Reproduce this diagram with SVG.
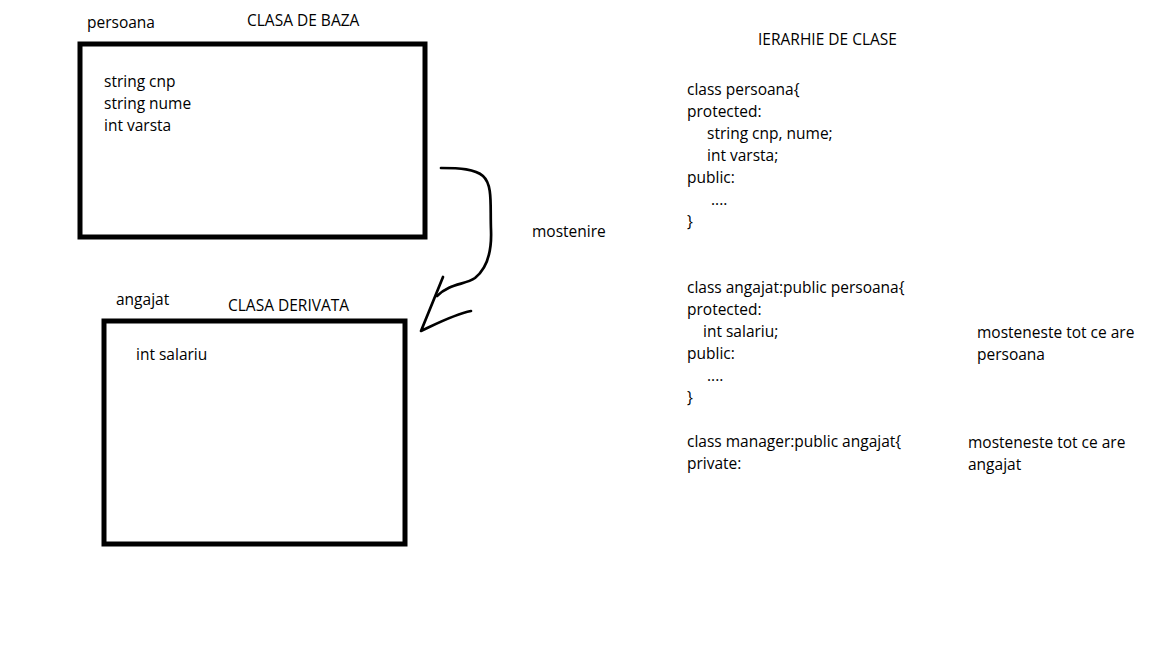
<svg xmlns="http://www.w3.org/2000/svg" width="1152" height="648" viewBox="0 0 1152 648">
<style>
text{font-family:"Open Sans","Liberation Sans",sans-serif;font-size:15.5px;fill:#000}
.box{fill:none;stroke:#000;stroke-width:5}
.pen{fill:none;stroke:#000;stroke-width:2.7;stroke-linecap:round;stroke-linejoin:round}
</style>
<rect width="1152" height="648" fill="#fff"/>
<g id="persoana">
<rect class="box" x="80" y="44" width="345" height="193"/>
<text x="87" y="28">persoana</text>
<text x="247" y="26">CLASA DE BAZA</text>
<text x="104" y="87">string cnp</text>
<text x="104" y="109">string nume</text>
<text x="104" y="131">int varsta</text>
</g>
<g id="angajat">
<rect class="box" x="104" y="321" width="301" height="223"/>
<text x="116" y="305">angajat</text>
<text x="228" y="311">CLASA DERIVATA</text>
<text x="136" y="360">int salariu</text>
</g>
<g id="connectors">
<path class="pen" d="M441,168 C460,168 475,169 483,176 C493,185 490,205 491,230 C492,255 485,270 475,278 C465,285 450,283 437,296"/>
<path class="pen" d="M443,277 L421,331 C438,323 455,314 471,311"/>
<text x="532" y="237">mostenire</text>
</g>
<g id="code">
<text x="758" y="45">IERARHIE DE CLASE</text>
<text x="687" y="95">class persoana{</text>
<text x="687" y="117">protected:</text>
<text x="707" y="139">string cnp, nume;</text>
<text x="707" y="161">int varsta;</text>
<text x="687" y="183">public:</text>
<text x="711" y="205">....</text>
<text x="687" y="227">}</text>
<text x="687" y="293">class angajat:public persoana{</text>
<text x="687" y="315">protected:</text>
<text x="703" y="337">int salariu;</text>
<text x="687" y="359">public:</text>
<text x="707" y="381">....</text>
<text x="687" y="403">}</text>
<text x="687" y="447">class manager:public angajat{</text>
<text x="687" y="469">private:</text>
</g>
<g id="notes">
<text x="977" y="338">mosteneste tot ce are</text>
<text x="977" y="360">persoana</text>
<text x="968" y="448">mosteneste tot ce are</text>
<text x="968" y="470">angajat</text>
</g>
</svg>
